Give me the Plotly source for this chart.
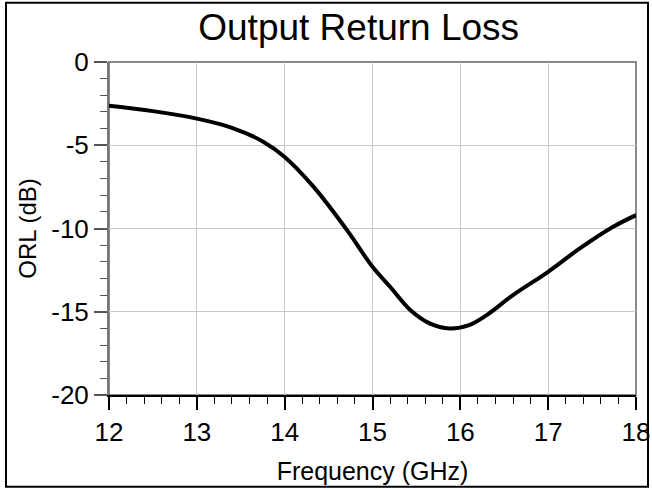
import plotly.graph_objects as go

freq_ghz = [12.0, 12.5, 13.0, 13.4, 13.76, 14.0, 14.33, 14.71, 15.0, 15.2, 15.43, 15.65, 15.88, 16.1, 16.3, 16.6, 17.0, 17.36, 17.74, 18.0]
orl_db = [-2.62, -2.95, -3.4, -3.95, -4.8, -5.7, -7.5, -10.1, -12.3, -13.5, -14.9, -15.7, -16.0, -15.8, -15.2, -14.0, -12.6, -11.2, -9.9, -9.2]

x_ticks = [12, 13, 14, 15, 16, 17, 18]
y_ticks = [0, -5, -10, -15, -20]
y_tick_labels = ["0", "-5", "-10", "-15", "-20"]

FONT = "Liberation Sans, Arial, sans-serif"

fig = go.Figure()
fig.add_trace(go.Scatter(
    x=freq_ghz, y=orl_db, mode="lines",
    line=dict(color="black", width=4, shape="spline", smoothing=1.0),
    showlegend=False, hoverinfo="skip",
))

L, R, T, B = 109, 16, 61.5, 94.5
W, H = 652, 490
pw = W - L - R
ph = H - T - B

fig.update_layout(
    template="none",
    width=W, height=H,
    margin=dict(l=L, r=R, t=T, b=B, pad=0),
    paper_bgcolor="white", plot_bgcolor="white",
    font=dict(family=FONT, color="black"),
    title=dict(text="Output Return Loss", font=dict(size=37, family=FONT, color="black"),
               x=358.7 / W, xanchor="center", y=1 - 27 / H, yanchor="middle"),
    xaxis=dict(
        range=[12, 18], tickvals=x_ticks, ticks="outside", ticklen=13, tickwidth=1.5,
        tickcolor="black", showline=True, linecolor="black", linewidth=1.5,
        showgrid=True, gridcolor="#c8c8c8", gridwidth=1, zeroline=False, automargin=False,
        tickfont=dict(size=26, family=FONT, color="black"),
        minor=dict(dtick=0.2, ticks="outside", ticklen=7, tickcolor="black", tickwidth=1.2, showgrid=False),
        title=dict(text="Frequency (GHz)", font=dict(size=25, family=FONT, color="black"), standoff=17),
    ),
    yaxis=dict(
        range=[-20, 0], tickvals=y_ticks, ticktext=y_tick_labels, ticks="outside", ticklen=13, tickwidth=1.5,
        tickcolor="#555", showline=True, linecolor="#777", linewidth=2,
        showgrid=True, gridcolor="#c8c8c8", gridwidth=1, zeroline=False, automargin=False,
        tickfont=dict(size=26, family=FONT, color="black"),
        minor=dict(dtick=1, ticks="outside", ticklen=7, tickcolor="#555", tickwidth=1.2, showgrid=False),
        title=dict(text="ORL (dB)", font=dict(size=24, family=FONT, color="black"), standoff=8),
    ),
    shapes=[
        dict(type="rect", xref="paper", yref="paper", x0=0, x1=1, y0=0, y1=1,
             line=dict(color="#888", width=2), layer="below"),
        dict(type="rect", xref="paper", yref="paper",
             x0=(6 - L) / pw, x1=(648 - L) / pw,
             y0=(ph + T - 487.5) / ph, y1=(ph + T - 2) / ph,
             line=dict(color="black", width=2)),
    ],
)

fig.write_html("out.html", config={"displayModeBar": False},
               post_script="document.body.style.margin='0px';document.body.style.overflow='hidden';")
